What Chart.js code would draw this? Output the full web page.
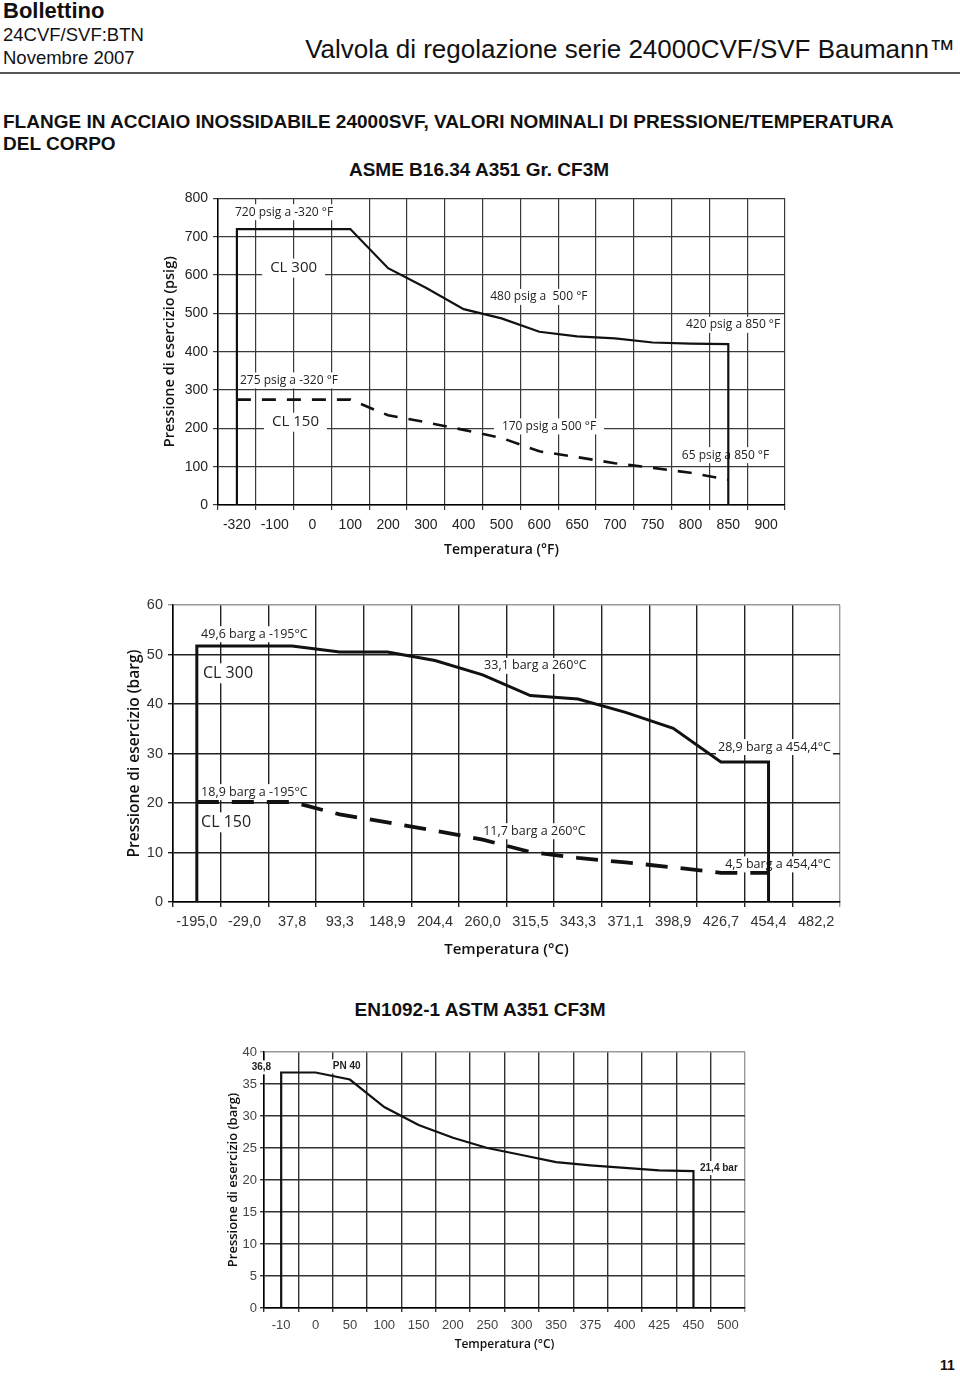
<!DOCTYPE html>
<html>
<head>
<meta charset="utf-8">
<script src="https://cdn.jsdelivr.net/npm/chart.js@4.4.0/dist/chart.umd.min.js"></script>
<style>
body { margin: 0; width: 960px; height: 1376px; position: relative; background: #fff; overflow: hidden;
       font-family: "Liberation Sans", Arial, sans-serif; color: #111; }
.t { position: absolute; white-space: nowrap; }
.c { position: absolute; }
</style>
</head>
<body>
<div class="t" style="left:3px;top:-2px;font-size:22px;font-weight:bold">Bollettino</div>
<div class="t" style="left:3px;top:24px;font-size:18.5px">24CVF/SVF:BTN</div>
<div class="t" style="left:3px;top:47px;font-size:18.5px">Novembre 2007</div>
<div class="t" style="right:5px;top:34px;font-size:26px">Valvola di regolazione serie 24000CVF/SVF Baumann™</div>
<div class="c" style="left:0;top:72px;width:960px;height:2px;background:#555"></div>
<div class="t" style="left:3px;top:111px;font-size:19px;font-weight:bold">FLANGE IN ACCIAIO INOSSIDABILE 24000SVF, VALORI NOMINALI DI PRESSIONE/TEMPERATURA</div>
<div class="t" style="left:3px;top:133px;font-size:19px;font-weight:bold">DEL CORPO</div>
<div class="t" style="left:0;width:958px;text-align:center;top:159px;font-size:19px;font-weight:bold">ASME B16.34 A351 Gr. CF3M</div>
<div class="t" style="left:0;width:960px;text-align:center;top:999px;font-size:19px;font-weight:bold">EN1092-1 ASTM A351 CF3M</div>
<div class="t" style="left:940px;top:1357px;font-size:14px;font-weight:bold">11</div>

<canvas class="c" id="psigChart" width="650" height="380" style="left:150px;top:185px"></canvas>
<canvas class="c" id="bargChart" width="760" height="375" style="left:100px;top:590px"></canvas>
<canvas class="c" id="pnChart" width="545" height="320" style="left:215px;top:1040px"></canvas>

<script>
// ASME B16.34 CF3M, psig vs °F
const tempF = ['-320', '-100', '0', '100', '200', '300', '400', '500', '600', '650', '700', '750', '800', '850', '900'];
const cl300Psig = [720, 720, 720, 720, 618, 567, 511, 487, 452, 440, 435, 424, 421, 420, null];
const cl150Psig = [275, 275, 275, 275, 234, 216, 196, 175, 140, 125, 109, 97, 84, 66, null];

// same ratings in barg vs °C
const tempC = ['-195,0', '-29,0', '37,8', '93,3', '148,9', '204,4', '260,0', '315,5', '343,3', '371,1', '398,9', '426,7', '454,4', '482,2'];
const cl300Barg = [51.7, 51.7, 51.7, 50.5, 50.5, 48.8, 45.9, 41.7, 41.0, 38.3, 35.1, 28.3, 28.3, null];
const cl150Barg = [20.2, 20.2, 20.2, 17.7, 16.1, 14.4, 12.6, 10.1, 8.9, 8.0, 7.0, 5.9, 5.9, null];

// EN1092-1 PN 40
const tempPN = ['-10', '0', '50', '100', '150', '200', '250', '300', '350', '375', '400', '425', '450', '500'];
const pn40Barg = [36.8, 36.8, 35.7, 31.4, 28.6, 26.6, 25.0, 23.9, 22.8, 22.3, 21.9, 21.5, 21.4, null];

const tickFont = "'Liberation Sans', Arial, sans-serif";
const titleFont = "'Open Sans', sans-serif";

// points of a rating curve, with the vertical limits down to 0 at both ends
function curve(labels, values, drops) {
    const pts = labels.map((l, i) => ({ x: l, y: values[i] })).filter(p => p.y !== null);
    if (!drops) return pts;
    return [{ x: pts[0].x, y: 0 }, ...pts, { x: pts[pts.length - 1].x, y: 0 }];
}

// text notes with a white box, placed in data units (category index, value)
const notesPlugin = {
    id: 'notes',
    beforeDatasetsDraw(chart, args, opts) {
        const { ctx, scales: { x, y } } = chart;
        ctx.save();
        (opts.items || []).forEach(n => {
            ctx.font = n.font || opts.font;
            const px = x.getPixelForValue(n.at);
            const py = y.getPixelForValue(n.v);
            const w = ctx.measureText(n.text).width;
            const h = n.size || opts.size;
            const pad = n.pad || 2;
            ctx.fillStyle = '#fff';
            ctx.fillRect(px - pad, py - h / 2 - 2, w + pad * 2, h + 4);
            ctx.fillStyle = opts.color || '#222';
            ctx.textBaseline = 'middle';
            ctx.fillText(n.text, px, py);
        });
        ctx.restore();
    }
};

function gridColor(main, edge) {
    return c => (c.type !== 'tick' || (c.tick && c.tick.value === c.scale.max && c.scale.axis === 'y')) ? edge : main;
}

function makeChart(id, cfg) {
    const ctx = document.getElementById(id);
    return new Chart(ctx, {
        type: 'line',
        data: { labels: cfg.labels, datasets: cfg.datasets },
        plugins: [notesPlugin],
        options: {
            responsive: false,
            animation: false,
            events: [],
            layout: { padding: cfg.padding },
            elements: { point: { radius: 0 }, line: { tension: 0, borderCapStyle: 'butt' } },
            plugins: {
                legend: { display: false },
                tooltip: { enabled: false },
                notes: cfg.notes
            },
            scales: {
                x: {
                    type: 'category',
                    offset: true,
                    afterFit: s => { s.height = cfg.xHeight; },
                    grid: { offset: true, color: gridColor(cfg.grid, cfg.edge), lineWidth: cfg.gridWidth, tickLength: cfg.tickLen },
                    border: { color: '#000', width: 1.5 },
                    ticks: { autoSkip: false, maxRotation: 0, padding: cfg.xPad, color: cfg.tickColor,
                             font: { family: tickFont, size: cfg.tickSize } },
                    title: { display: true, text: cfg.xTitle, color: '#111', padding: { bottom: cfg.xTitlePad },
                             font: { family: titleFont, size: cfg.titleSize, weight: '600' } }
                },
                y: {
                    min: 0,
                    max: cfg.yMax,
                    afterFit: s => { s.width = cfg.yWidth; },
                    grid: { color: gridColor(cfg.grid, cfg.edge), lineWidth: cfg.gridWidth, tickLength: cfg.tickLen },
                    border: { color: '#000', width: 1.5 },
                    ticks: { stepSize: cfg.yStep, padding: cfg.yPad, color: cfg.tickColor,
                             font: { family: tickFont, size: cfg.tickSize } },
                    title: { display: true, text: cfg.yTitle, color: '#111', padding: { top: cfg.yTitlePad },
                             font: { family: titleFont, size: cfg.yTitleSize || cfg.titleSize, weight: '600' } }
                }
            }
        }
    });
}

const noteFont = "12px 'Open Sans', sans-serif";
const bigNote = "15px 'Open Sans', sans-serif";

makeChart('psigChart', {
    labels: tempF,
    datasets: [
        { data: curve(tempF, cl300Psig, true), borderColor: '#111', borderWidth: 2.2 },
        { data: curve(tempF, cl150Psig, false), borderColor: '#111', borderWidth: 2.6, borderDash: [14, 11] }
    ],
    padding: { top: 12, right: 15, left: 0, bottom: 0 },
    xHeight: 60, yWidth: 68, yMax: 800, yStep: 100,
    grid: '#3a3a3a', edge: '#3a3a3a', gridWidth: 1.2, tickLen: 5,
    tickColor: '#222', tickSize: 14, xPad: 7, yPad: 5,
    xTitle: 'Temperatura (°F)', yTitle: 'Pressione di esercizio (psig)', titleSize: 14, yTitleSize: 14.5,
    xTitlePad: 7, yTitlePad: 11,
    notes: {
        font: noteFont, size: 12,
        items: [
            { text: '720 psig a -320 °F', at: -0.05, v: 764 },
            { text: 'CL 300', at: 0.88, v: 618, font: bigNote, size: 15, pad: 8 },
            { text: '480 psig a  500 °F', at: 6.7, v: 543 },
            { text: '420 psig a 850 °F', at: 11.88, v: 470 },
            { text: '275 psig a -320 °F', at: 0.08, v: 325 },
            { text: 'CL 150', at: 0.93, v: 216, font: bigNote, size: 15, pad: 8 },
            { text: '170 psig a 500 °F', at: 7.01, v: 205, pad: 8 },
            { text: '65 psig a 850 °F', at: 11.77, v: 130 }
        ]
    }
});

makeChart('bargChart', {
    labels: tempC,
    datasets: [
        { data: curve(tempC, cl300Barg, true), borderColor: '#111', borderWidth: 3 },
        { data: curve(tempC, cl150Barg, false), borderColor: '#111', borderWidth: 3.8, borderDash: [22, 13] }
    ],
    padding: { top: 15, right: 20, left: 0, bottom: 0 },
    xHeight: 63, yWidth: 73, yMax: 60, yStep: 10,
    grid: '#222', edge: '#999', gridWidth: 1.4, tickLen: 5,
    tickColor: '#333', tickSize: 14.5, xPad: 6, yPad: 5,
    xTitle: 'Temperatura (°C)', yTitle: 'Pressione di esercizio (barg)', titleSize: 15, yTitleSize: 15.5,
    xTitlePad: 6, yTitlePad: 25,
    notes: {
        font: "12.5px 'Open Sans', sans-serif", size: 12,
        items: [
            { text: '49,6 barg a -195°C', at: 0.09, v: 54.1 },
            { text: 'CL 300', at: 0.13, v: 46.2, font: "16px 'Open Sans', sans-serif", size: 16 },
            { text: '33,1 barg a 260°C', at: 6.03, v: 47.7 },
            { text: '28,9 barg a 454,4°C', at: 10.94, v: 31.3 },
            { text: '18,9 barg a -195°C', at: 0.09, v: 22.2 },
            { text: 'CL 150', at: 0.09, v: 16.1, font: "16px 'Open Sans', sans-serif", size: 16 },
            { text: '11,7 barg a 260°C', at: 6.01, v: 14.3 },
            { text: '4,5 barg a 454,4°C', at: 11.09, v: 7.6 }
        ]
    }
});

makeChart('pnChart', {
    labels: tempPN,
    datasets: [
        { data: curve(tempPN, pn40Barg, true), borderColor: '#111', borderWidth: 2.2 }
    ],
    padding: { top: 12, right: 15, left: 0, bottom: 0 },
    xHeight: 52, yWidth: 49, yMax: 40, yStep: 5,
    grid: '#333', edge: '#999', gridWidth: 1.4, tickLen: 4,
    tickColor: '#444', tickSize: 13, xPad: 6, yPad: 3,
    xTitle: 'Temperatura (°C)', yTitle: 'Pressione di esercizio (barg)', titleSize: 12, yTitleSize: 13,
    xTitlePad: 8, yTitlePad: 10,
    notes: {
        font: "bold 10px 'Liberation Sans', Arial, sans-serif", size: 10,
        items: [
            { text: '36,8', at: -0.86, v: 37.6, pad: 1 },
            { text: 'PN 40', at: 1.5, v: 37.75 },
            { text: '21,4 bar', at: 12.19, v: 21.86 }
        ]
    }
});
</script>
</body>
</html>
